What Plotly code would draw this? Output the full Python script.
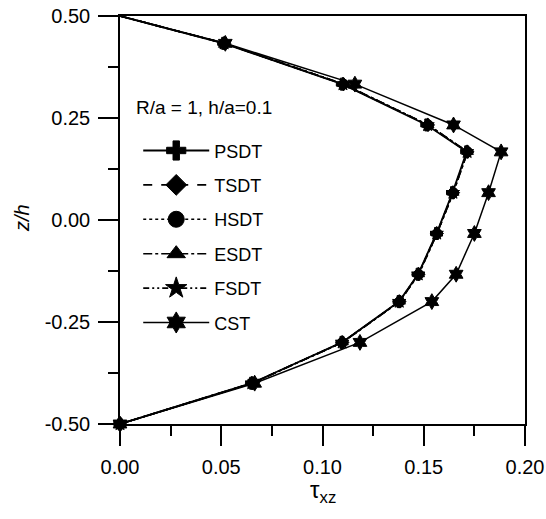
import plotly.graph_objects as go

# z/h positions through the thickness
z = [0.5, 0.433, 0.333, 0.233, 0.167, 0.067, -0.033, -0.133, -0.2, -0.3, -0.4, -0.5]

# transverse shear stress tau_xz for each theory
psdt = [0.0, 0.0512, 0.1098, 0.1515, 0.1712, 0.1642, 0.1563, 0.1472, 0.1378, 0.1096, 0.0650, 0.0]
tsdt = [0.0, 0.0515, 0.1103, 0.1521, 0.1716, 0.1645, 0.1565, 0.1474, 0.1380, 0.1098, 0.0652, 0.0]
hsdt = [0.0, 0.0515, 0.1104, 0.1522, 0.1716, 0.1646, 0.1566, 0.1475, 0.1381, 0.1098, 0.0652, 0.0]
esdt = [0.0, 0.0516, 0.1104, 0.1522, 0.1717, 0.1646, 0.1566, 0.1475, 0.1381, 0.1099, 0.0653, 0.0]
fsdt = [0.0, 0.0514, 0.1101, 0.1519, 0.1714, 0.1644, 0.1564, 0.1473, 0.1379, 0.1097, 0.0651, 0.0]
cst = [0.0, 0.0520, 0.1160, 0.1647, 0.1882, 0.1820, 0.1750, 0.1660, 0.1540, 0.1185, 0.0665, 0.0]

# tick labels (plain hyphen minus as in the original)
x_ticks = [0.0, 0.05, 0.10, 0.15, 0.20]
x_ticklabels = ["0.00", "0.05", "0.10", "0.15", "0.20"]
y_ticks = [-0.5, -0.25, 0.0, 0.25, 0.5]
y_ticklabels = ["-0.50", "-0.25", "0.00", "0.25", "0.50"]

names = ["PSDT", "TSDT", "HSDT", "ESDT", "FSDT", "CST"]
series = [psdt, tsdt, hsdt, esdt, fsdt, cst]
symbols = ["cross", "diamond", "circle", "triangle-up", "star", "hexagram"]
dashes = ["solid", "dash", "dot", "dashdot", "6px,3px,2px,3px,2px,3px", "solid"]
widths = [1.8, 1.6, 1.6, 1.6, 1.6, 1.5]
sizes = [10, 10, 10, 10, 10, 12]

FONT = "Arial, Liberation Sans, sans-serif"

fig = go.Figure()

for name, xs, sym, dash, w, s in zip(names, series, symbols, dashes, widths, sizes):
    # hide the marker at the top corner like the original
    msize = [0] + [s] * (len(z) - 1)
    fig.add_trace(go.Scatter(
        x=xs, y=z, mode="lines+markers", name=name, showlegend=False,
        line=dict(color="black", width=w, dash=dash),
        marker=dict(symbol=sym, size=msize, color="black", opacity=1,
                    line=dict(color="black", width=1)),
        cliponaxis=False,
    ))
    # legend entry with bigger symbol
    fig.add_trace(go.Scatter(
        x=[None], y=[None], mode="lines+markers", name=name, legendgroup=name,
        line=dict(color="black", width=w, dash=dash),
        marker=dict(symbol=sym, size=16, color="black", line=dict(color="black", width=1)),
    ))

axis_common = dict(
    showline=True, linecolor="black", linewidth=1.5, mirror=True,
    ticks="outside", ticklen=20, tickwidth=1.5, tickcolor="black",
    showgrid=False, zeroline=False, automargin=False,
    tickfont=dict(family=FONT, size=20, color="black"),
)

fig.update_xaxes(
    range=[0, 0.2], tickmode="array", tickvals=x_ticks, ticktext=x_ticklabels,
    minor=dict(dtick=0.025, ticks="outside", ticklen=10, tickwidth=1.5, tickcolor="black", showgrid=False),
    ticklabelstandoff=4,
    **axis_common,
)
fig.update_yaxes(
    range=[-0.5, 0.5], tickmode="array", tickvals=y_ticks, ticktext=y_ticklabels,
    minor=dict(dtick=0.125, ticks="outside", ticklen=10, tickwidth=1.5, tickcolor="black", showgrid=False),
    ticklabelstandoff=4,
    **axis_common,
)

# axis titles
fig.add_annotation(
    text="τ<sub>xz</sub>", xref="paper", yref="paper", x=0.5, y=-0.165,
    xanchor="center", yanchor="middle", showarrow=False,
    font=dict(family=FONT, size=24, color="black"),
)
fig.add_annotation(
    text="<i>z/h</i>", xref="paper", yref="paper", x=-0.242, y=0.505,
    xanchor="center", yanchor="middle", showarrow=False, textangle=-90,
    font=dict(family=FONT, size=20, color="black"),
)

fig.add_annotation(
    text="R/a = 1, h/a=0.1", xref="paper", yref="paper", x=0.035, y=0.775,
    xanchor="left", yanchor="middle", showarrow=False,
    font=dict(family=FONT, size=19, color="black"),
)

fig.update_layout(
    width=546, height=519,
    margin=dict(l=120, r=21, t=16, b=95),
    plot_bgcolor="white", paper_bgcolor="white",
    showlegend=True,
    legend=dict(
        x=0.045, y=0.715, xanchor="left", yanchor="top",
        bgcolor="rgba(0,0,0,0)", tracegroupgap=8, itemwidth=66,
        font=dict(family=FONT, size=18, color="black"),
    ),
)

# drop the default page margin so the figure sits at the window corner
fig.write_html("out.html", config={"displayModeBar": False},
               post_script="document.body.style.margin='0';")
